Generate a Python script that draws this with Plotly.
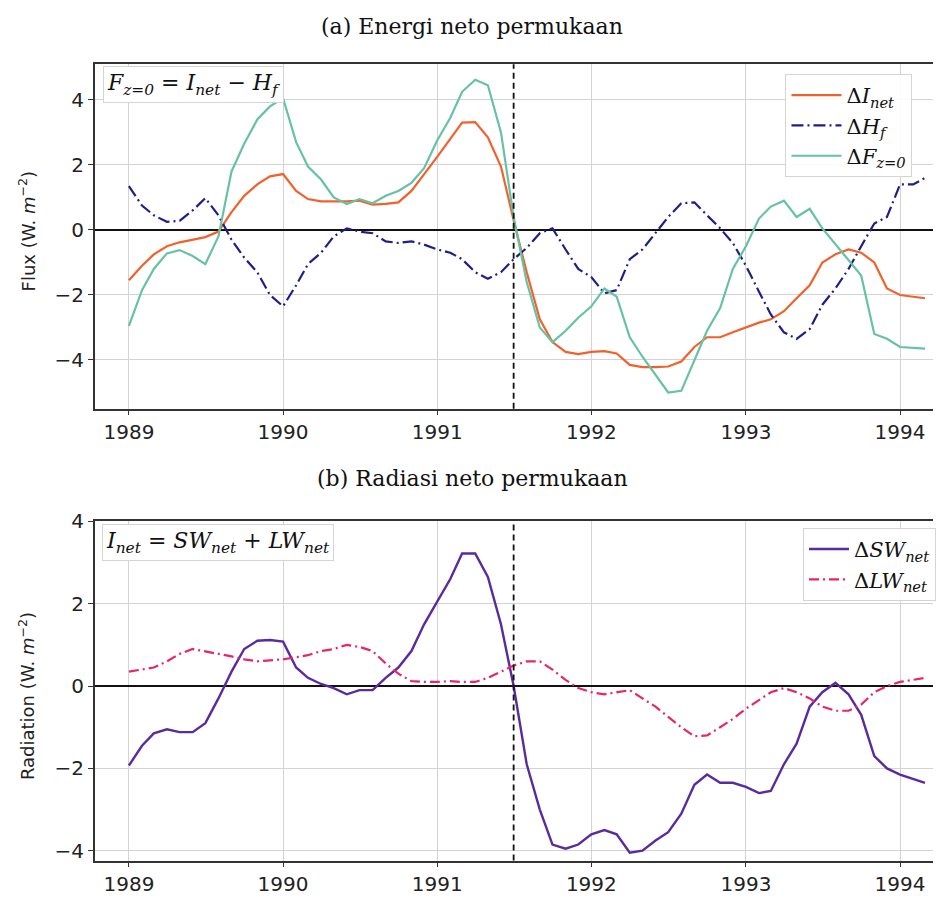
import pandas as pd
import plotly.graph_objects as go

dates = pd.date_range("1989-01-01", periods=63, freq="MS")

d_inet = [-1.55, -1.1, -0.75, -0.5, -0.38, -0.3, -0.22, -0.05, 0.55, 1.05, 1.4, 1.65,
          1.72, 1.2, 0.95, 0.88, 0.87, 0.88, 0.9, 0.78, 0.8, 0.85, 1.2, 1.7,
          2.25, 2.8, 3.3, 3.32, 2.85, 1.95, 0.3, -1.3, -2.75, -3.45, -3.75, -3.82,
          -3.75, -3.73, -3.8, -4.15, -4.22, -4.22, -4.2, -4.05, -3.6, -3.3, -3.3, -3.15,
          -3.0, -2.85, -2.75, -2.5, -2.1, -1.7, -1.0, -0.75, -0.6, -0.7, -1.0, -1.8,
          -2.0, -2.05, -2.1]
d_hf = [1.35, 0.75, 0.45, 0.25, 0.28, 0.6, 0.98, 0.45, -0.3, -0.85, -1.3, -2.0,
        -2.35, -1.7, -1.05, -0.7, -0.2, 0.05, -0.05, -0.1, -0.35, -0.4, -0.35, -0.45,
        -0.6, -0.7, -0.9, -1.3, -1.5, -1.3, -0.9, -0.55, -0.1, 0.05, -0.6, -1.2,
        -1.45, -1.95, -1.85, -0.9, -0.6, -0.1, 0.4, 0.82, 0.85, 0.45, 0.05, -0.4,
        -1.1, -1.9, -2.6, -3.15, -3.35, -3.05, -2.3, -1.8, -1.2, -0.5, 0.2, 0.4,
        1.4, 1.4, 1.6]
d_fz0 = [-2.95, -1.85, -1.2, -0.72, -0.62, -0.8, -1.05, -0.2, 1.8, 2.65, 3.4, 3.8,
         4.05, 2.7, 1.95, 1.55, 1.0, 0.8, 0.95, 0.82, 1.05, 1.2, 1.45, 1.9,
         2.75, 3.45, 4.25, 4.62, 4.45, 3.0, 0.4, -1.6, -3.0, -3.45, -3.1, -2.7,
         -2.35, -1.8, -2.05, -3.3, -3.9, -4.45, -5.0, -4.95, -4.0, -3.1, -2.4, -1.2,
         -0.5, 0.35, 0.72, 0.9, 0.4, 0.65, 0.05, -0.45, -0.95, -1.4, -3.2, -3.35,
         -3.6, -3.62, -3.65]
d_sw = [-1.93, -1.45, -1.15, -1.05, -1.12, -1.12, -0.9, -0.3, 0.35, 0.9, 1.1, 1.12,
        1.08, 0.45, 0.2, 0.05, -0.05, -0.2, -0.1, -0.1, 0.2, 0.45, 0.85, 1.5,
        2.05, 2.6, 3.22, 3.22, 2.65, 1.5, 0.0, -1.9, -3.0, -3.85, -3.95, -3.85,
        -3.6, -3.5, -3.6, -4.05, -4.0, -3.75, -3.55, -3.1, -2.4, -2.15, -2.35, -2.35,
        -2.45, -2.6, -2.55, -1.9, -1.4, -0.5, -0.15, 0.08, -0.2, -0.7, -1.7, -2.0,
        -2.15, -2.25, -2.35]
d_lw = [0.35, 0.4, 0.45, 0.6, 0.78, 0.9, 0.85, 0.78, 0.72, 0.65, 0.6, 0.62,
        0.65, 0.7, 0.75, 0.85, 0.9, 1.0, 0.95, 0.85, 0.55, 0.3, 0.12, 0.1,
        0.1, 0.12, 0.1, 0.1, 0.2, 0.35, 0.5, 0.6, 0.6, 0.4, 0.15, -0.05,
        -0.15, -0.2, -0.15, -0.1, -0.3, -0.5, -0.75, -1.0, -1.22, -1.2, -1.0, -0.8,
        -0.55, -0.35, -0.15, -0.05, -0.15, -0.3, -0.5, -0.6, -0.6, -0.45, -0.15, 0.0,
        0.1, 0.15, 0.2]

year_ticks = ["1989-01-01", "1990-01-01", "1991-01-01", "1992-01-01", "1993-01-01", "1994-01-01"]
year_labels = ["1989", "1990", "1991", "1992", "1993", "1994"]
eruption = "1991-07-01"

C_ORANGE = "#f2612c"
C_NAVY = "#1f1f8a"
C_GREEN = "#66c2a5"
C_PURPLE = "#5a2b9c"
C_PINK = "#e8246c"

W, H = 936, 901
fig = go.Figure()

fig.add_trace(go.Scatter(x=dates, y=d_inet, mode="lines", name="Δ<i>I</i><sub><i>net</i></sub>",
                         line=dict(color=C_ORANGE, width=2.2), xaxis="x", yaxis="y", legend="legend"))
fig.add_trace(go.Scatter(x=dates, y=d_hf, mode="lines", name="Δ<i>H</i><sub><i>f</i></sub>",
                         line=dict(color=C_NAVY, width=2.2, dash="12px,4px,2px,4px"), xaxis="x", yaxis="y", legend="legend"))
fig.add_trace(go.Scatter(x=dates, y=d_fz0, mode="lines", name="Δ<i>F</i><sub><i>z=0</i></sub>",
                         line=dict(color=C_GREEN, width=2.2), xaxis="x", yaxis="y", legend="legend"))
fig.add_trace(go.Scatter(x=dates, y=d_sw, mode="lines", name="Δ<i>SW</i><sub><i>net</i></sub>",
                         line=dict(color=C_PURPLE, width=2.4), xaxis="x2", yaxis="y2", legend="legend2"))
fig.add_trace(go.Scatter(x=dates, y=d_lw, mode="lines", name="Δ<i>LW</i><sub><i>net</i></sub>",
                         line=dict(color=C_PINK, width=2.2, dash="10px,4px,2px,4px"), xaxis="x2", yaxis="y2", legend="legend2"))

xdom = [95 / W, 1.0]
top_dom = [1 - 403 / H, 1 - 53 / H]
bot_dom = [1 - 862 / H, 1 - 517 / H]
xrange_ = ["1988-10-12", "1994-03-20"]

tickfont = dict(family="DejaVu Sans", size=20, color="#222")
common_x = dict(type="date", range=xrange_, tickvals=year_ticks, ticktext=year_labels,
                showgrid=True, gridcolor="#d3d3d3", gridwidth=1, showline=True, linecolor="#333",
                linewidth=1.5, mirror=True, ticks="outside", ticklen=5, tickcolor="#333",
                tickfont=tickfont, domain=xdom, zeroline=False)
common_y = dict(showgrid=True, gridcolor="#d3d3d3", gridwidth=1, showline=True, linecolor="#333",
                linewidth=1.5, mirror=False, ticks="outside", ticklen=5, tickcolor="#333",
                tickfont=tickfont, zeroline=True, zerolinecolor="#111", zerolinewidth=1.8,
                tickvals=[-4, -2, 0, 2, 4], ticktext=["−4", "−2", "0", "2", "4"])

fig.update_layout(
    width=W, height=H,
    margin=dict(l=0, r=0, t=0, b=0),
    paper_bgcolor="white", plot_bgcolor="white",
    xaxis=dict(**common_x, anchor="y"),
    yaxis=dict(**common_y, domain=top_dom, range=[-5.5, 5.1], anchor="x"),
    xaxis2=dict(**common_x, anchor="y2"),
    yaxis2=dict(**common_y, domain=bot_dom, range=[-4.24, 4.01], anchor="x2"),
    legend=dict(x=788 / W, y=1 - 63 / H, xanchor="left", yanchor="top",
                bgcolor="rgba(255,255,255,0.9)", bordercolor="#d4d4d4", borderwidth=1,
                font=dict(family="DejaVu Serif", size=21, color="#111"), tracegroupgap=4,
                itemwidth=50),
    legend2=dict(x=806 / W, y=1 - 524 / H, xanchor="left", yanchor="top",
                 bgcolor="rgba(255,255,255,0.9)", bordercolor="#d4d4d4", borderwidth=1,
                 font=dict(family="DejaVu Serif", size=21, color="#111"), itemwidth=40),
    showlegend=True,
)

for xr, yr in (("x", "y domain"), ("x2", "y2 domain")):
    fig.add_shape(type="line", xref=xr, yref=yr, x0=eruption, x1=eruption, y0=0, y1=1,
                  line=dict(color="#111", width=1.8, dash="6px,4px"))

titlefont = dict(family="DejaVu Serif", size=22, color="#111")
fig.add_annotation(text="(a) Energi neto permukaan", x=474 / W, y=1 - 15 / H, xref="paper", yref="paper",
                   showarrow=False, font=titlefont, xanchor="center", yanchor="middle")
fig.add_annotation(text="(b) Radiasi neto permukaan", x=474 / W, y=1 - 474 / H, xref="paper", yref="paper",
                   showarrow=False, font=titlefont, xanchor="center", yanchor="middle")

labfont = dict(family="DejaVu Sans", size=18, color="#222")
fig.add_annotation(text="Flux (W. <i>m</i><sup>−2</sup>)", x=27 / W, y=1 - 222 / H, xref="paper", yref="paper",
                   showarrow=False, textangle=-90, font=labfont, xanchor="center", yanchor="middle")
fig.add_annotation(text="Radiation (W. <i>m</i><sup>−2</sup>)", x=27 / W, y=1 - 695 / H, xref="paper", yref="paper",
                   showarrow=False, textangle=-90, font=labfont, xanchor="center", yanchor="middle")

boxfont = dict(family="DejaVu Serif", size=22, color="#111")
fig.add_annotation(text="<i>F</i><sub><i>z=0</i></sub> = <i>I</i><sub><i>net</i></sub> − <i>H</i><sub><i>f</i></sub>",
                   x=103 / W, y=1 - 55 / H, xref="paper", yref="paper", showarrow=False,
                   xanchor="left", yanchor="top", font=boxfont, bgcolor="white",
                   bordercolor="#d4d4d4", borderwidth=1, borderpad=3)
fig.add_annotation(text="<i>I</i><sub><i>net</i></sub> = <i>SW</i><sub><i>net</i></sub> + <i>LW</i><sub><i>net</i></sub>",
                   x=102 / W, y=1 - 520 / H, xref="paper", yref="paper", showarrow=False,
                   xanchor="left", yanchor="top", font=boxfont, bgcolor="white",
                   bordercolor="#d4d4d4", borderwidth=1, borderpad=3)

fig.write_html("out.html", config={"displayModeBar": False},
               post_script="document.body.style.margin='0px';document.body.style.overflow='hidden';")
